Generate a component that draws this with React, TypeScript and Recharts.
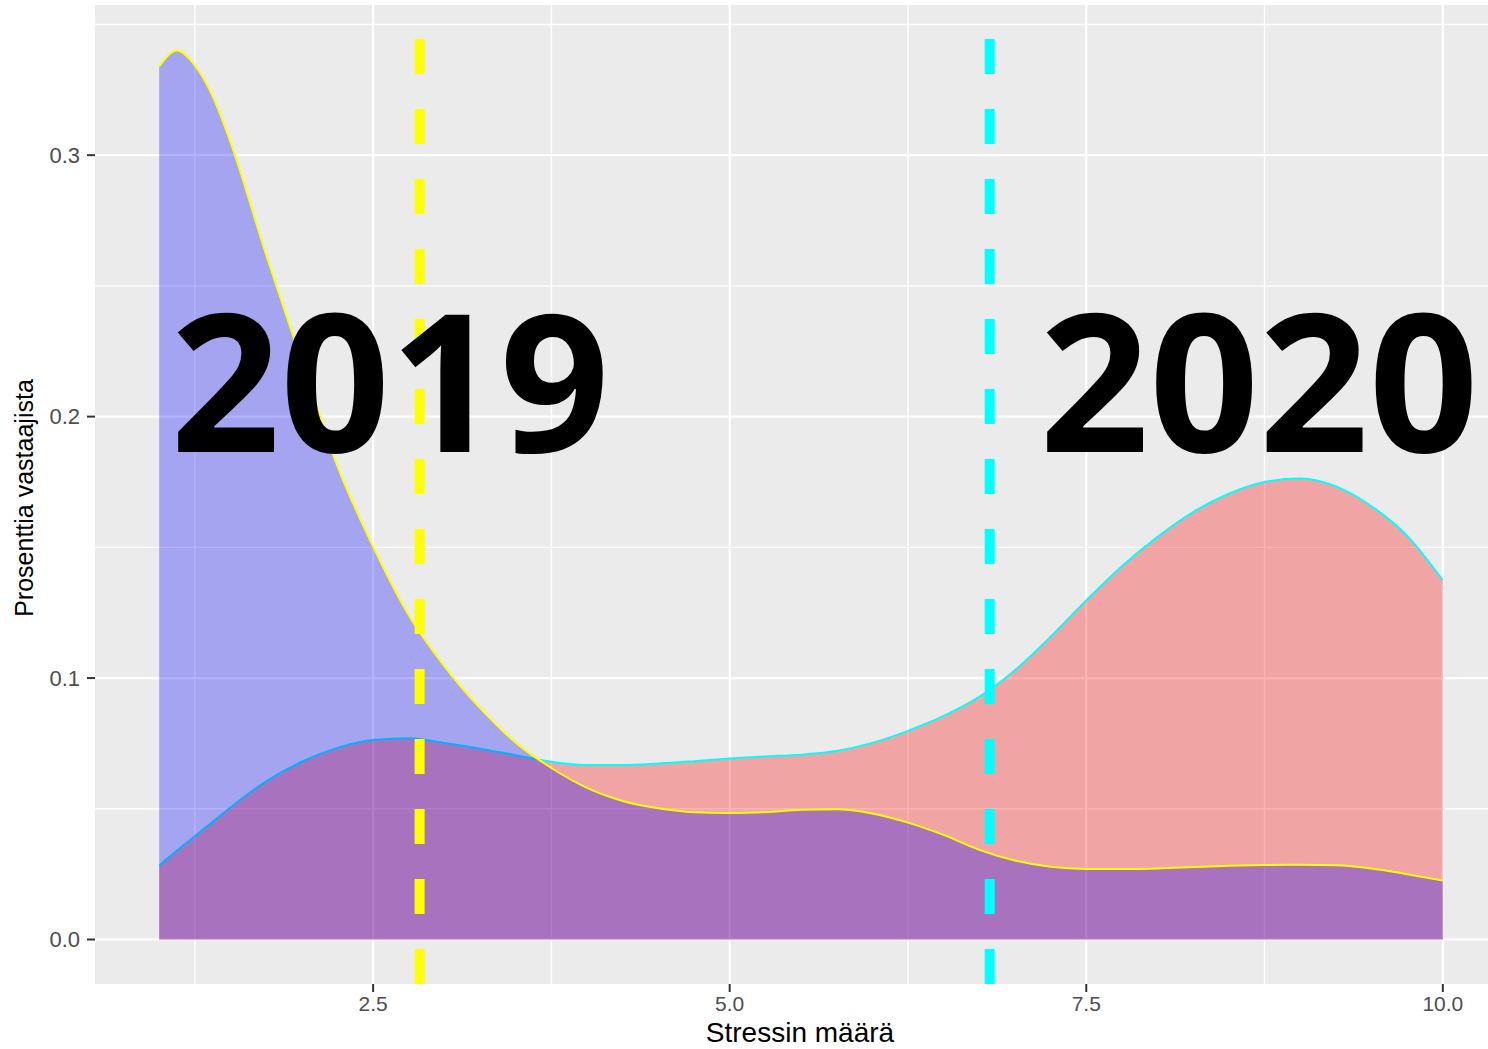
import React from 'react';
import { ComposedChart, Area, XAxis, YAxis, CartesianGrid, ReferenceLine } from 'recharts';

// Stress level (x) grid on which both density curves are read
const stressLevels = [
  1.0, 1.125, 1.25, 1.375, 1.5, 1.75, 2.0, 2.25, 2.5, 2.75, 3.0, 3.25, 3.5, 3.75,
  4.0, 4.25, 4.5, 4.75, 5.0, 5.25, 5.5, 5.75, 6.0, 6.25, 6.5, 6.75, 7.0, 7.25,
  7.5, 7.75, 8.0, 8.25, 8.5, 8.75, 9.0, 9.25, 9.5, 9.75, 10.0,
];

// 2019 density (blue fill, yellow outline)
const share2019 = [
  0.334, 0.340, 0.3343, 0.3225, 0.305, 0.2618, 0.221, 0.181, 0.1503, 0.124, 0.1045, 0.0885, 0.0753, 0.0656,
  0.058, 0.053, 0.0502, 0.0487, 0.0484, 0.0487, 0.0496, 0.0498, 0.0482, 0.0447, 0.0400, 0.0343, 0.0302, 0.0278,
  0.0270, 0.0270, 0.0272, 0.0277, 0.0282, 0.0285, 0.0286, 0.0284, 0.0272, 0.0250, 0.0226,
];

// 2020 density (red fill, cyan outline)
const share2020 = [
  0.0283, 0.034, 0.0395, 0.045, 0.0505, 0.0605, 0.068, 0.0733, 0.0763, 0.077, 0.0752, 0.073, 0.0705, 0.068,
  0.0667, 0.0667, 0.0673, 0.0682, 0.0692, 0.070, 0.0707, 0.0721, 0.0752, 0.0798, 0.0855, 0.0928, 0.1030, 0.1158,
  0.1297, 0.1428, 0.1540, 0.1635, 0.1705, 0.1750, 0.1763, 0.1733, 0.1657, 0.1544, 0.1374,
];

const xTicks = [2.5, 5.0, 7.5, 10.0];
const yTicks = [0.0, 0.1, 0.2, 0.3];
const xMinorGrid = [1.25, 3.75, 6.25, 8.75];
const yMinorGrid = [0.05, 0.15, 0.25, 0.35];

const mean2019 = 2.826;
const mean2020 = 6.823;

const xDomain = [0.55, 10.45];
const yDomain = [-0.01702, 0.35744];

const data = stressLevels.map((x, i) => ({ x, y2019: share2019[i], y2020: share2020[i] }));

const tickFont = 'Liberation Sans, Arial, sans-serif';

export default function App() {
  return (
    <div style={{ position: 'absolute', left: 0, top: 0, width: 1488, height: 1049, overflow: 'hidden', background: '#fff' }}>
      <ComposedChart width={1507} height={1049} data={data} margin={{ top: 5, right: 0, left: 0, bottom: 0 }}>
        <CartesianGrid
          fill="#EBEBEB"
          stroke="#FFFFFF"
          strokeWidth={1.4}
          horizontalValues={yMinorGrid}
          verticalValues={xMinorGrid}
        />
        <CartesianGrid
          stroke="#FFFFFF"
          strokeWidth={2.2}
          horizontalValues={yTicks}
          verticalValues={xTicks}
        />
        <XAxis
          dataKey="x"
          type="number"
          domain={xDomain}
          ticks={xTicks}
          allowDataOverflow
          interval={0}
          height={65}
          tickSize={8}
          tickMargin={4}
          axisLine={false}
          tickLine={{ stroke: '#333333', strokeWidth: 2 }}
          tick={{ fill: '#4D4D4D', fontSize: 21, fontFamily: tickFont }}
          tickFormatter={(v: number) => v.toFixed(1)}
        />
        <YAxis
          type="number"
          domain={yDomain}
          ticks={yTicks}
          allowDataOverflow
          interval={0}
          width={95}
          tickSize={8}
          tickMargin={7}
          axisLine={false}
          tickLine={{ stroke: '#333333', strokeWidth: 2 }}
          tick={{ fill: '#4D4D4D', fontSize: 22, fontFamily: tickFont }}
          tickFormatter={(v: number) => v.toFixed(1)}
        />
        <Area
          dataKey="y2020"
          type="monotone"
          baseValue={0}
          fill="#FF0000"
          fillOpacity={0.3}
          stroke="#00FFFF"
          strokeWidth={2}
          dot={false}
          activeDot={false}
          isAnimationActive={false}
        />
        <Area
          dataKey="y2019"
          type="monotone"
          baseValue={0}
          fill="#0000FF"
          fillOpacity={0.3}
          stroke="#FFFF00"
          strokeWidth={2}
          dot={false}
          activeDot={false}
          isAnimationActive={false}
        />
        <ReferenceLine x={mean2019} stroke="#FFFF00" strokeWidth={10} strokeDasharray="35 35" />
        <ReferenceLine x={mean2020} stroke="#00FFFF" strokeWidth={10} strokeDasharray="35 35" />
      </ComposedChart>
      <svg
        width={1488}
        height={1049}
        style={{ position: 'absolute', left: 0, top: 0, pointerEvents: 'none' }}
      >
        <text x={800} y={1042} textAnchor="middle" fontSize={28} fill="#000" fontFamily={tickFont}>
          Stressin määrä
        </text>
        <text
          x={33}
          y={498}
          textAnchor="middle"
          fontSize={25}
          fill="#000"
          fontFamily={tickFont}
          transform="rotate(-90 33 498)"
        >
          Prosenttia vastaajista
        </text>
        <text x={390} y={452} textAnchor="middle" fontSize={192} fontWeight={700} fill="#000" fontFamily="Open Sans, sans-serif">
          2019
        </text>
        <text x={1259} y={452} textAnchor="middle" fontSize={192} fontWeight={700} fill="#000" fontFamily="Open Sans, sans-serif">
          2020
        </text>
      </svg>
    </div>
  );
}
